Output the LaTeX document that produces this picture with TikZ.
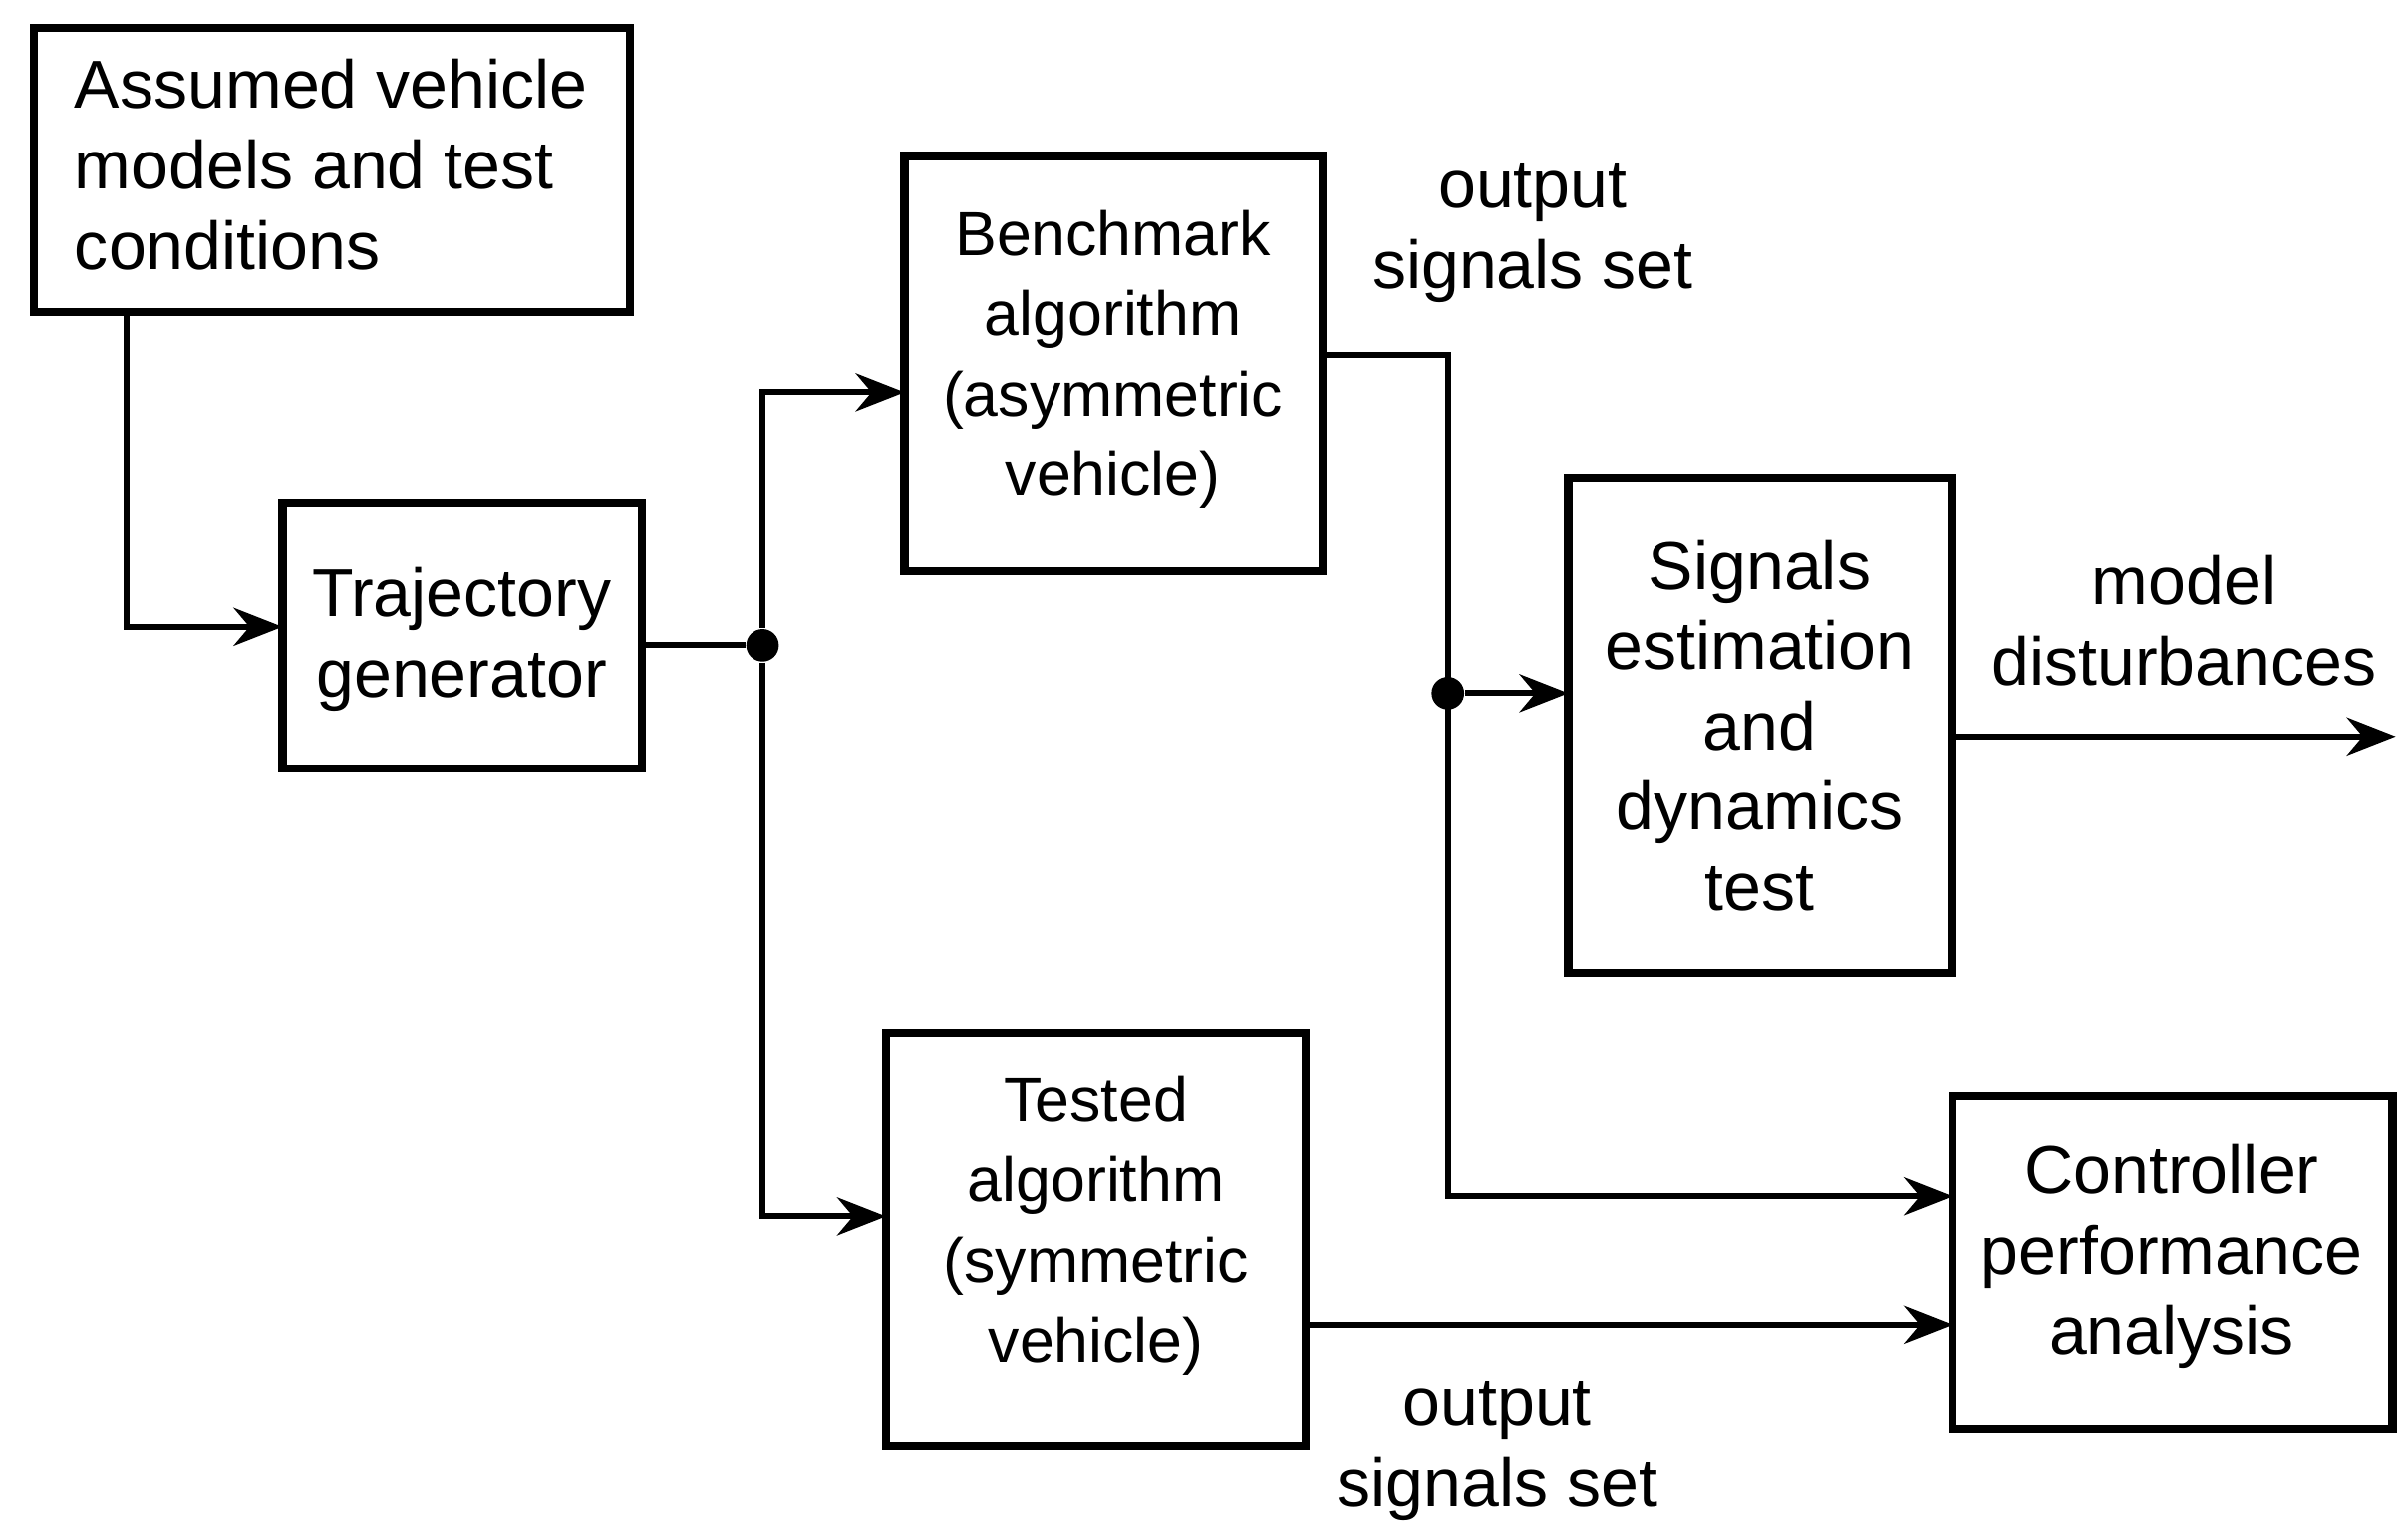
\documentclass[tikz,border=0pt]{standalone}
\usepackage{fontspec}
\setmainfont{Liberation Sans}
\usetikzlibrary{arrows.meta}
\begin{document}
\begin{tikzpicture}[x=0.01cm,y=-0.01cm,
  box/.style={draw,line width=1.5pt,inner sep=0pt},
  txt/.style={align=center,font=\fontsize{12.5}{14.8}\selectfont},
  ntxt/.style={align=center,font=\fontsize{11.5}{14.8}\selectfont},
  ln/.style={line width=1.1pt},
  ar/.style={ln,-{Stealth[length=9pt,width=7pt]}},
  dot/.style={circle,fill,inner sep=0pt,minimum size=6pt}]
\useasboundingbox (0,0) rectangle (1560,993);
\draw[box] (22,18) rectangle (408,202);
\node[txt,align=left,anchor=north west] (a) at (36,26) {Assumed vehicle\\models and test\\conditions};
\draw[box] (183,326) rectangle (416,498);
\node[txt] (t) at (299,414) {Trajectory\\generator};
\draw[box] (586,101) rectangle (857,370);
\node[ntxt] (b) at (721,233) {Benchmark\\algorithm\\(asymmetric\\vehicle)};
\draw[box] (574,669) rectangle (846,937);
\node[ntxt] (te) at (710,794) {Tested\\algorithm\\(symmetric\\vehicle)};
\draw[box] (1016,310) rectangle (1264,630);
\node[txt] (s) at (1140,470) {Signals\\estimation\\and\\dynamics\\test};
\draw[box] (1265,710) rectangle (1550,926);
\node[txt] (c) at (1407,814) {Controller\\performance\\analysis};
\coordinate (a1) at (82,202);
\coordinate (a2) at (82,406);
\coordinate (t1) at (183,406);
\draw[ar] (a1) -- (a2) -- (t1);
\node[dot] (d1) at (494,418) {};
\coordinate (t2) at (416,418);
\draw[ln] (t2) -- (d1);
\coordinate (v1) at (494,254);
\coordinate (v2) at (494,788);
\coordinate (b1) at (586,254);
\coordinate (te1) at (574,788);
\draw[ar] (d1) -- (v1) -- (b1);
\draw[ar] (d1) -- (v2) -- (te1);
\coordinate (b2) at (857,230);
\coordinate (h1) at (938,230);
\coordinate (h2) at (938,775);
\coordinate (c1) at (1265,775);
\draw[ar] (b2) -- (h1) -- (h2) -- (c1);
\node[dot] (d2) at (938,449) {};
\coordinate (s1) at (1016,449);
\draw[ar] (d2) -- (s1);
\coordinate (te2) at (846,858);
\coordinate (c2) at (1265,858);
\draw[ar] (te2) -- (c2);
\coordinate (s2) at (1264,477);
\coordinate (e) at (1552,477);
\draw[ar] (s2) -- (e);
\node[txt] (l1) at (993,151) {output\\signals set};
\node[txt] (l2) at (1415,402) {model\\disturbances};
\node[txt] (l3) at (970,940) {output\\signals set};
\end{tikzpicture}
\end{document}
